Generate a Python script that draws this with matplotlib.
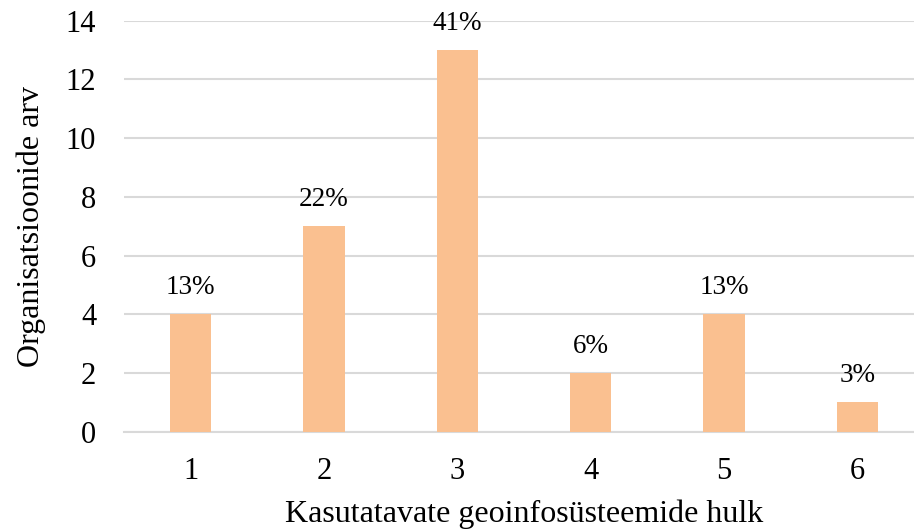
import matplotlib
matplotlib.use("Agg")
import matplotlib.pyplot as plt

categories = ["1", "2", "3", "4", "5", "6"]
counts = [4, 7, 13, 2, 4, 1]
percent_labels = ["13%", "22%", "41%", "6%", "13%", "3%"]
yticks = [0, 2, 4, 6, 8, 10, 12, 14]

plt.rcParams['font.family'] = ['Liberation Serif', 'DejaVu Serif']

W, H = 914, 532
fig = plt.figure(figsize=(W / 100, H / 100), dpi=100)
left, right = 124 / W, 924 / W
bottom, top = 1 - 431.7 / H, 1 - 20.7 / H
ax = fig.add_axes([left, bottom, right - left, top - bottom])

x = list(range(len(categories)))
bars = ax.bar(x, counts, width=0.31, color="#FAC090", zorder=3)

ax.set_xlim(-0.5, len(categories) - 0.5)
ax.set_ylim(0, 14)
ax.set_yticks(yticks)
ax.set_xticks(x)
ax.set_xticklabels(categories)
ax.yaxis.grid(True, color="#D9D9D9", linewidth=1.5, zorder=0)
for s in ["top", "right", "left"]:
    ax.spines[s].set_visible(False)
ax.spines["bottom"].set_color("#D9D9D9")
ax.spines["bottom"].set_linewidth(1.5)
ax.tick_params(axis="both", length=0, labelsize=22, colors="black")
ax.tick_params(axis="x", pad=18)
ax.tick_params(axis="y", pad=20)

for b, lab in zip(bars, percent_labels):
    ax.annotate(lab, (b.get_x() + b.get_width() / 2, b.get_height()),
                xytext=(0, 10), textcoords="offset points",
                ha="center", va="bottom", fontsize=19.5)

ax.set_xlabel("Kasutatavate geoinfosüsteemide hulk", fontsize=23, labelpad=10)
ax.set_ylabel("Organisatsioonide arv", fontsize=23, labelpad=14)

fig.savefig("out.png", dpi=100)
